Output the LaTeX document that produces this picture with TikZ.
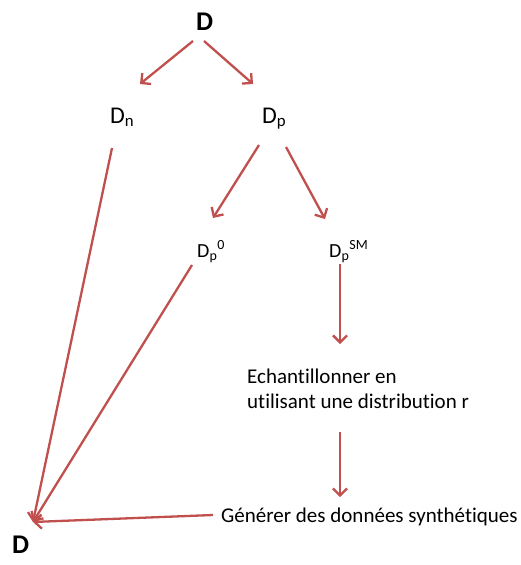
\documentclass[tikz,border=0pt]{standalone}
\usepackage{fontspec}
\setmainfont{Carlito}[Ligatures=NoCommon]
\usetikzlibrary{arrows.meta}
\definecolor{arrred}{RGB}{192,80,77}
\begin{document}
\begin{tikzpicture}[x=1pt, y=-1pt, inner sep=0pt,
	big/.style = {font=\fontsize{27}{30}\selectfont\bfseries, anchor=base west},
	mid/.style = {font=\fontsize{24}{28}\selectfont, anchor=base west},
	small/.style = {font=\fontsize{20}{24}\selectfont, anchor=base west},
	txt/.style = {font=\fontsize{21}{25}\selectfont, anchor=base west, align=left},
	arr/.style = {draw=arrred, line width=2.3pt, -{Straight Barb[length=7pt,width=14pt]}}]

		\useasboundingbox (0,0) rectangle (521,565);

		\node[big] (d) at (196,30) {D};
		\node[mid] (dn) at (110,123) {D\textsubscript{n}};
		\node[mid] (dp) at (262,123) {D\textsubscript{p}};
		\node[small] (dp0) at (197,257) {D\textsubscript{p}\textsuperscript{0}};
		\node[small] (dpsm) at (329,257) {D\textsubscript{p}\textsuperscript{SM}};
		\node[txt] (ech) at (247,408) {Echantillonner en\\utilisant une distribution r};
		\node[txt] (gen) at (221,522) {Générer des données synthétiques};
		\node[big] (dd) at (12,553) {D};
		\coordinate (hub) at (33,522);

		\draw[arr] ([shift={(-3,11)}]d.base west) -- ([shift={(30,-39)}]dn.base west);
		\draw[arr] ([shift={(8,11)}]d.base west) -- ([shift={(-9,-39)}]dp.base west);
		\draw[arr] ([shift={(-3,22)}]dp.base west) -- ([shift={(16,-39)}]dp0.base west);
		\draw[arr] ([shift={(24,24)}]dp.base west) -- ([shift={(-4,-38)}]dpsm.base west);
		\draw[arr] ([shift={(2,25)}]dn.base west) -- (hub);
		\draw[arr] ([shift={(-5,8)}]dp0.base west) -- (hub);
		\draw[arr] ([shift={(11,7)}]dpsm.base west) -- ([shift={(93,-64)}]ech.base west);
		\draw[arr] ([shift={(93,24)}]ech.base west) -- ([shift={(119,-25)}]gen.base west);
		\draw[arr] ([shift={(-8,-7)}]gen.base west) -- (hub);
	\end{tikzpicture}
\end{document}
